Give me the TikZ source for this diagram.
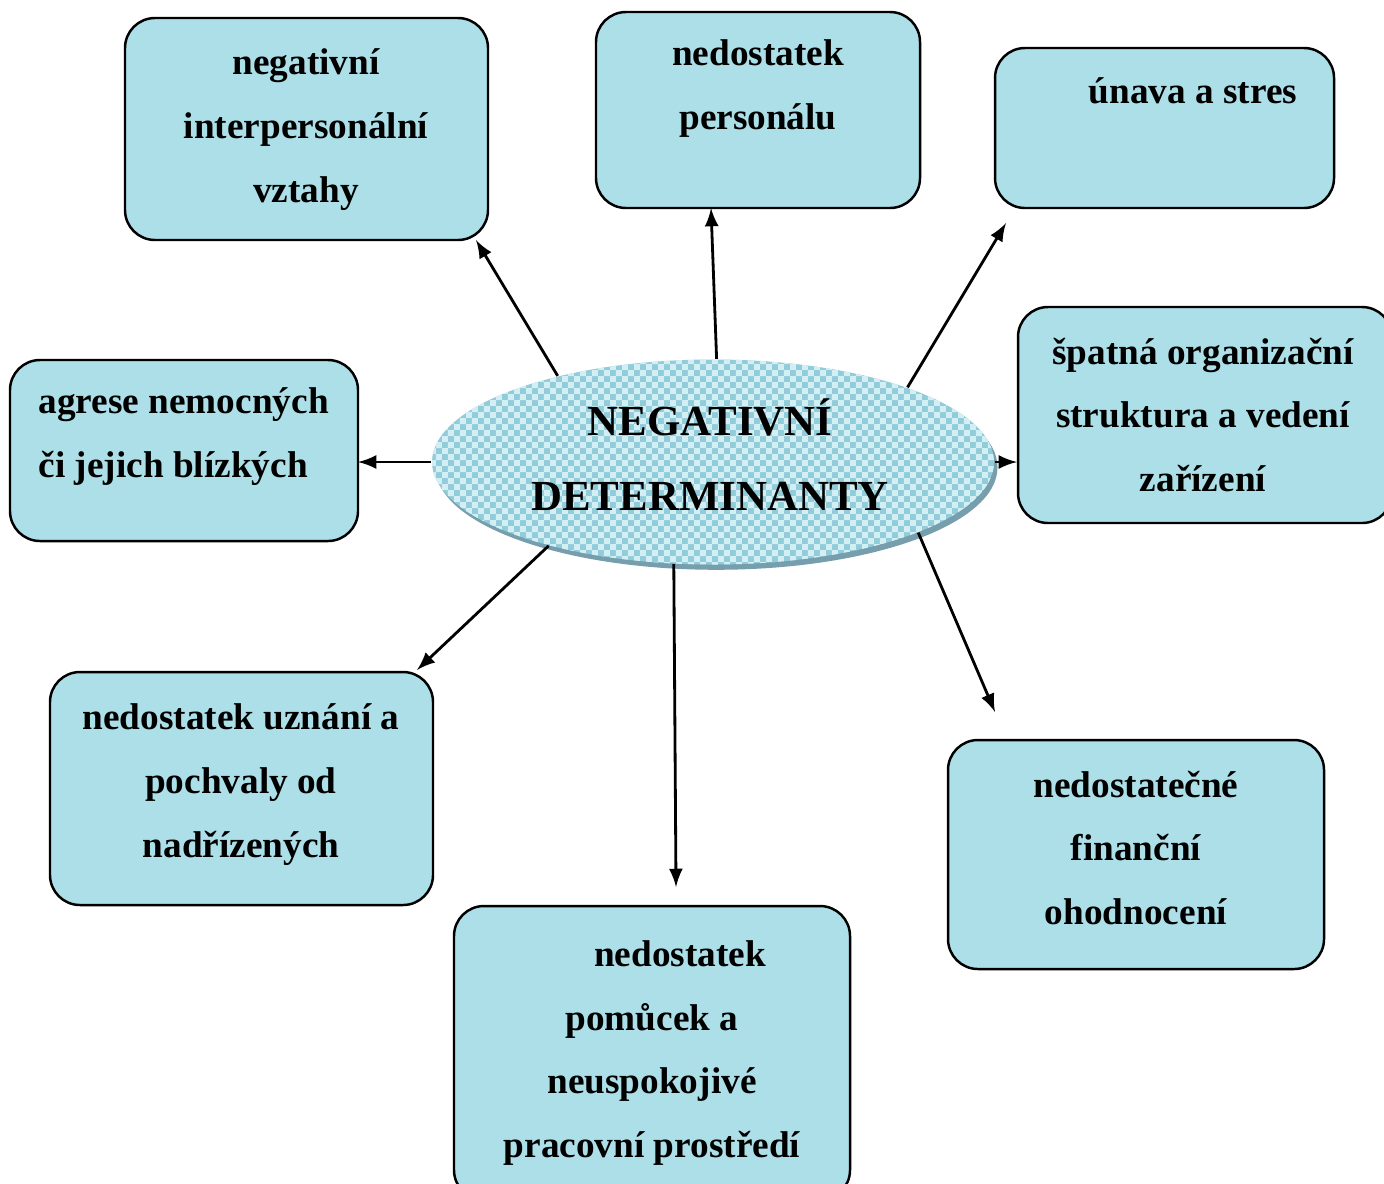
\documentclass[tikz,border=0pt]{standalone}
\usepackage{fontspec}
\setmainfont{Liberation Serif}
\usetikzlibrary{shapes.geometric,patterns}

\definecolor{dropblue}{RGB}{172,223,232}
\definecolor{ellblue}{RGB}{145,204,219}
\definecolor{ellcheck}{RGB}{212,239,244}
\definecolor{ellshadow}{RGB}{118,158,172}

% small checks for the centre ellipse
\pgfdeclarepatternformonly{smallchecks}{\pgfpointorigin}{\pgfqpoint{3.4pt}{3.4pt}}{\pgfqpoint{3.4pt}{3.4pt}}{%
  \pgfpathrectangle{\pgfpointorigin}{\pgfqpoint{1.7pt}{1.7pt}}%
  \pgfpathrectangle{\pgfqpoint{1.7pt}{1.7pt}}{\pgfqpoint{1.7pt}{1.7pt}}%
  \pgfusepath{fill}}

\tikzset{
  box/.style={draw=black, line width=0.7pt, rounded corners=0.3cm, fill=dropblue},
  boxtext/.style={font=\fontsize{10.6}{18.2}\selectfont\bfseries, align=center, inner sep=0pt},
  arr/.style={-latex, line width=0.8pt},
}

\begin{document}
\begin{tikzpicture}%
        \useasboundingbox (0,0) rectangle (13.84,-11.83);
        % boxes
        \node[box, minimum width=3.63cm, minimum height=2.22cm] (b1) at (3.065,-1.29) {};
        \node[box, minimum width=3.24cm, minimum height=1.96cm] (b2) at (7.58,-1.10) {};
        \node[box, minimum width=3.39cm, minimum height=1.60cm] (b3) at (11.645,-1.28) {};
        \node[box, minimum width=3.74cm, minimum height=2.16cm] (b4) at (12.05,-4.15) {};
        \node[box, minimum width=3.48cm, minimum height=1.81cm] (b5) at (1.84,-4.505) {};
        \node[box, minimum width=3.83cm, minimum height=2.33cm] (b6) at (2.415,-7.885) {};
        \node[box, minimum width=3.96cm, minimum height=2.94cm] (b7) at (6.52,-10.53) {};
        \node[box, minimum width=3.76cm, minimum height=2.29cm] (b8) at (11.36,-8.545) {};
        % texts
        \node[boxtext] (t1) at (3.06,-1.30) {negativní\\interpersonální\\vztahy};
        \node[boxtext] (t2) at (7.58,-0.89) {nedostatek\\personálu};
        \node[boxtext] (t3) at (11.93,-0.91) {únava a stres};
        \node[boxtext] (t4) at (12.03,-4.15) {špatná organizační\\struktura a vedení\\zařízení};
        \node[boxtext, align=left, anchor=west] (t5) at (0.38,-4.37) {agrese nemocných\\či jejich blízkých};
        \node[boxtext] (t6) at (2.41,-7.845) {nedostatek uznání a\\pochvaly od\\nadřízených};
        \node[boxtext] (t7) at (6.52,-10.53) {\hspace*{0.56cm}nedostatek\\pomůcek a\\neuspokojivé\\pracovní prostředí};
        \node[boxtext] (t8) at (11.36,-8.48) {nedostatečné\\finanční\\ohodnocení};
        % centre
        \node[ellipse, minimum width=5.62cm, minimum height=2.05cm, inner sep=0pt,
              preaction={fill=ellshadow, transform canvas={shift={(1pt,-1.5pt)}}},
              preaction={fill=ellblue}, pattern=smallchecks, pattern color=ellcheck] (el) at (7.13,-4.62) {};
        \node[font=\fontsize{12.2}{21.3}\selectfont\bfseries, align=center, inner sep=0pt] (eltext) at (7.10,-4.55)
              {NEGATIVNÍ\\DETERMINANTY};
        % arrow tips
        \coordinate (a1) at (4.76,-2.40);
        \coordinate (a2) at (7.11,-2.08);
        \coordinate (a3) at (10.06,-2.23);
        \coordinate (a4) at (10.17,-4.62);
        \coordinate (a5) at (3.58,-4.62);
        \coordinate (a6) at (4.17,-6.70);
        \coordinate (a7) at (6.76,-8.87);
        \coordinate (a8) at (9.95,-7.12);
        \draw[arr] (el.151.8) -- (a1);
        \draw[arr] (el.88) -- (a2);
        \draw[arr] (el.21.7) -- (a3);
        \draw[arr] (el.east) -- (a4);
        \draw[arr] (el.west) -- (a5);
        \draw[arr] (el.207) -- (a6);
        \draw[arr] (el.249.7) -- (a7);
        \draw[arr] (el.341) -- (a8);
    \end{tikzpicture}
\end{document}
